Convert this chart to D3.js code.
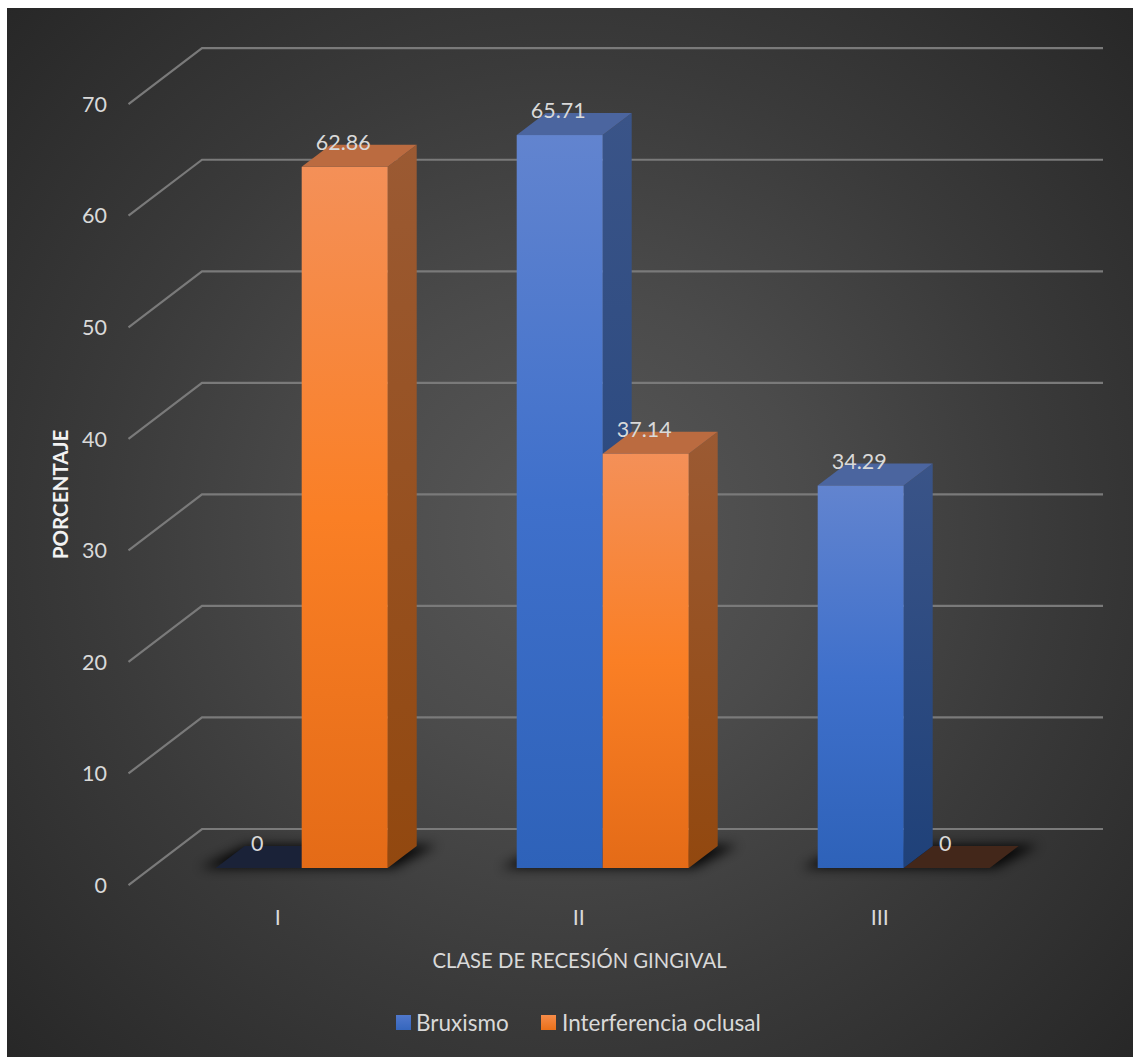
<!DOCTYPE html>
<html><head><meta charset="utf-8">
<script src="https://cdn.jsdelivr.net/npm/d3@7"></script>
<style>html,body{margin:0;padding:0;background:#fff;overflow:hidden}svg{display:block}text{font-family:Lato,"Open Sans",sans-serif}</style>
</head><body><div id="chart"></div>
<script>
const categories = ["I","II","III"];
const seriesNames = ["Bruxismo","Interferencia oclusal"];
const bruxismo = [0,65.71,34.29];
const interferencia = [62.86,37.14,0];
const yTicks = [0,10,20,30,40,50,60,70];
const xTitle = "CLASE DE RECESIÓN GINGIVAL";
const yTitle = "PORCENTAJE";

const W=1133,H=1057, dx=29, dy=-22, textCol="#d9d9d9";
const svg=d3.select("#chart").append("svg").attr("width",W).attr("height",H);
const defs=svg.append("defs");

const bg=defs.append("radialGradient").attr("id","bg").attr("gradientUnits","userSpaceOnUse")
 .attr("cx",570).attr("cy",532).attr("r",790);
[[0,"#585858"],[0.3,"#4b4b4b"],[0.6,"#3a3a3a"],[1,"#262626"]].forEach(s=>bg.append("stop").attr("offset",s[0]).attr("stop-color",s[1]));
defs.append("filter").attr("id","blur").attr("x","-30%").attr("y","-150%").attr("width","160%").attr("height","400%")
 .append("feGaussianBlur").attr("stdDeviation",6);

const palette=[
 {stops:["#6284cf","#3f70cb","#2e62b9"],side:"#3a5488",sideB:"#1f4179",top:"#4b659f",floor:"#1a2238",lg:["#5078cc","#3566bd"]},
 {stops:["#f49058","#fa7f25","#e46b17"],side:"#9b5a33",sideB:"#92480f",top:"#bb6b40",floor:"#43271a",lg:["#f68c49","#ea7019"]}
];
palette.forEach((p,i)=>{
 const g=defs.append("linearGradient").attr("id","front"+i).attr("x1",0).attr("x2",0).attr("y1",0).attr("y2",1);
 p.stops.forEach((c,k)=>g.append("stop").attr("offset",k/2).attr("stop-color",c));
 const s=defs.append("linearGradient").attr("id","side"+i).attr("x1",0).attr("x2",0).attr("y1",0).attr("y2",1);
 s.append("stop").attr("offset",0).attr("stop-color",p.side);
 s.append("stop").attr("offset",1).attr("stop-color",p.sideB);
 const l=defs.append("linearGradient").attr("id","leg"+i).attr("x1",0).attr("x2",0).attr("y1",0).attr("y2",1);
 p.lg.forEach((c,k)=>l.append("stop").attr("offset",k).attr("stop-color",c));
});

svg.append("rect").attr("x",7).attr("y",8).attr("width",W-7).attr("height",H-8).attr("fill","url(#bg)");

const y=d3.scaleLinear().domain([0,70]).range([868,87.2]);
const x=d3.scaleBand().domain(categories).range([151.2,1054.2]);
const gridFrontX=128.5, gridBackX=202, gridEndX=1103, gridFront0=885, gridBack0=829;

// gridlines with the slanted wall-side segment
svg.append("g").selectAll("path").data(yTicks).join("path")
 .attr("d",t=>{const h=y(t)-y(0);return `M${gridFrontX},${gridFront0+h}L${gridBackX},${gridBack0+h}L${gridEndX},${gridBack0+h}`;})
 .attr("fill","none").attr("stroke","#7a7a7a").attr("stroke-width",2.2);

// tick labels
svg.append("g").selectAll("text").data(yTicks).join("text")
 .attr("x",107).attr("y",t=>gridFront0+y(t)-y(0)).attr("dy","0.36em").attr("text-anchor","end")
 .attr("font-size",21.5).attr("fill",textCol).text(d=>d);

const barW=x.step()*86/301;
const bars=[];
categories.forEach((c,ci)=>{
 const mid=x(c)+x.bandwidth()/2;
 bars.push({s:0,v:bruxismo[ci],x0:mid-barW});
 bars.push({s:1,v:interferencia[ci],x0:mid});
});

// floor shadows per category
svg.append("g").selectAll("path").data(categories).join("path")
 .attr("d",c=>{const m=x(c)+x.bandwidth()/2,b=y(0);
   return `M${m-barW-16},${b}L${m+barW+6},${b}L${m+barW+dx+20},${b+dy-1}L${m-barW+dx+2},${b+dy-1}Z`;})
 .attr("fill","#000").attr("opacity",0.9).attr("filter","url(#blur)");

const g=svg.append("g");
bars.forEach(b=>{
 const p=palette[b.s], x0=b.x0, x1=b.x0+barW, yb=y(0);
 if(b.v===0){
  g.append("path").attr("d",`M${x0},${yb}L${x1},${yb}L${x1+dx},${yb+dy}L${x0+dx},${yb+dy}Z`).attr("fill",p.floor);
 }
});
bars.filter(b=>b.v>0).forEach(b=>{
 const x0=b.x0, x1=b.x0+barW, yb=y(0), yt=y(b.v), p=palette[b.s];
 g.append("path").attr("d",`M${x1},${yb}L${x1+dx},${yb+dy}L${x1+dx},${yt+dy}L${x1},${yt}Z`).attr("fill",`url(#side${b.s})`);
 g.append("path").attr("d",`M${x0},${yt}L${x1},${yt}L${x1+dx},${yt+dy}L${x0+dx},${yt+dy}Z`).attr("fill",p.top);
 g.append("rect").attr("x",x0).attr("y",yt).attr("width",barW).attr("height",yb-yt).attr("fill",`url(#front${b.s})`);
});

// value labels
svg.append("g").selectAll("text").data(bars).join("text")
 .attr("x",b=>b.x0+barW/2-1.5).attr("y",b=>y(b.v)-24.5).attr("dy","0.36em").attr("text-anchor","middle")
 .attr("font-size",21.5).attr("fill",textCol).text(b=>b.v);

// category labels
svg.append("g").selectAll("text").data(categories).join("text")
 .attr("x",c=>x(c)+x.bandwidth()/2-24).attr("y",917).attr("dy","0.36em").attr("text-anchor","middle")
 .attr("font-size",21.5).attr("fill",textCol).text(d=>d);

svg.append("text").attr("x",579.5).attr("y",961).attr("dy","0.36em").attr("text-anchor","middle")
 .attr("font-size",20.3).attr("fill",textCol).text(xTitle);
svg.append("text").attr("transform","translate(61,494.5) rotate(-90)").attr("dy","0.36em").attr("text-anchor","middle")
 .attr("font-size",20.6).attr("font-weight",700).attr("fill","#f2f2f2").text(yTitle);

// legend
const legendX=[396,541];
const lg=svg.append("g").selectAll("g").data(seriesNames).join("g").attr("transform",(d,i)=>`translate(${legendX[i]},1015)`);
lg.append("rect").attr("width",15).attr("height",15).attr("fill",(d,i)=>`url(#leg${i})`);
lg.append("text").attr("x",(d,i)=>i?21:20).attr("y",8).attr("dy","0.36em").attr("font-size",22.5).attr("fill",textCol).text(d=>d);
</script></body></html>
